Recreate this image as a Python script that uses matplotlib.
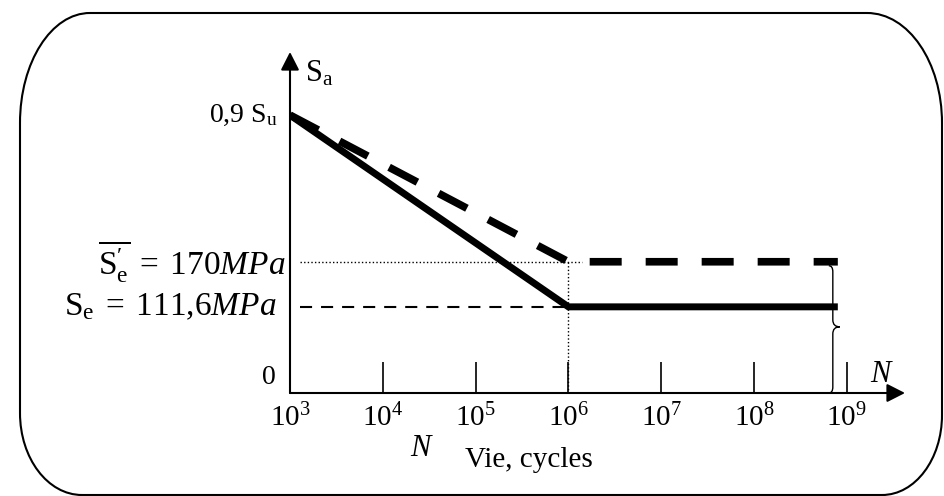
import numpy as np
import matplotlib
matplotlib.use("Agg")
import matplotlib.pyplot as plt
from matplotlib.path import Path
from matplotlib.patches import PathPatch
from matplotlib.transforms import Affine2D

plt.rcParams.update({
    "font.family": "Liberation Serif",
    "mathtext.fontset": "custom",
    "mathtext.rm": "Liberation Serif",
    "mathtext.it": "Liberation Serif:italic",
    "mathtext.bf": "Liberation Serif:bold",
})

# S-N diagram (schematic), life N in cycles, amplitude in MPa
N_knee = [1e3, 1e6, 8e8]
S_corrected = [360.0, 111.6, 111.6]     # S_e = 111,6 MPa
S_uncorrected = [360.0, 170.0, 170.0]   # S'_e = 170 MPa
S_09Su = 360.0
S_e = 111.6
S_e_prime = 170.0
decades = [3, 4, 5, 6, 7, 8, 9]

W, H = 944, 496
fig = plt.figure(figsize=(W / 100, H / 100), dpi=100)

# axes box: origin at (10^3, 0), arrow tips at the far ends
ax = fig.add_axes([290 / W, (H - 393) / H, (905 - 290) / W, (393 - 52) / H])
ax.set_xscale("log")
ax.set_xlim(1e3, 10 ** 9.627)
ax.set_ylim(0, 441.7)
for sp in ax.spines.values():
    sp.set_visible(False)
ax.patch.set_alpha(0)

# axes with arrow heads
arrow = dict(arrowstyle="-|>,head_length=0.55,head_width=0.28", color="black",
             lw=1.5, shrinkA=0, shrinkB=0, mutation_scale=20)
ax.annotate("", xy=(1, 0), xytext=(0, 0), xycoords="axes fraction", arrowprops=arrow)
ax.annotate("", xy=(0, 1), xytext=(0, 0), xycoords="axes fraction", arrowprops=arrow)

ax.set_xticks([10.0 ** d for d in decades])
ax.set_xticklabels([rf"$10^{{{d}}}$" for d in decades], fontsize=21)
ax.xaxis.set_minor_locator(matplotlib.ticker.NullLocator())
ax.tick_params(axis="x", direction="in", length=22, width=1.2, pad=8)
ax.set_yticks([])

# guide lines to the endurance levels
ax.plot([1.28e3, 1.4e6], [S_e_prime, S_e_prime], color="black", lw=1.0,
        ls=(0, (1, 1.6)), clip_on=False)
ax.plot([1e6, 1e6], [S_e_prime, 0], color="black", lw=1.0, ls=(0, (1, 1.6)))
ax.plot([1.28e3, 1e6], [S_e, S_e], color="black", lw=1.5, ls=(0, (5.8, 4.3)))

# uncorrected curve (dashed) and corrected curve (solid)
ln, = ax.plot(N_knee, S_uncorrected, color="black", lw=5.5, solid_joinstyle="miter")
ln.set_dashes((4.19, 3.14))
ax.plot(N_knee, S_corrected, color="black", lw=5.0, solid_joinstyle="miter",
        solid_capstyle="butt")

# level labels
ax.annotate(r"0,9 $\mathrm{S}_{\mathrm{u}}$", xy=(1e3, S_09Su), xytext=(-9, 0),
            textcoords="offset points", ha="right", va="center", fontsize=20)
ax.annotate(r"$\overline{\mathrm{S}_{\mathrm{e}}^{\prime}}\;=\;170\mathit{MPa}$",
            xy=(1e3, S_e_prime), xytext=(-3, 0), textcoords="offset points",
            ha="right", va="center", fontsize=24)
ax.annotate(r"$\mathrm{S}_{\mathrm{e}}\;=\;111{,}6\mathit{MPa}$", xy=(1e3, S_e),
            xytext=(-10, 0), textcoords="offset points", ha="right",
            va="center", fontsize=24)
ax.annotate("0", xy=(1e3, 0), xytext=(-10, 2), textcoords="offset points",
            ha="right", va="bottom", fontsize=20)
ax.annotate(r"$\mathrm{S}_{\mathrm{a}}$", xy=(0, 1), xycoords="axes fraction",
            xytext=(11, -16), textcoords="offset points", ha="left",
            va="center", fontsize=22)
fig.text(880 / W, 1 - 374 / H, "N", style="italic", fontsize=22, ha="center", va="center")
fig.text(420 / W, 1 - 448 / H, "N", style="italic", fontsize=22, ha="center", va="center")
fig.text(465 / W, 1 - 467 / H, "Vie, cycles", fontsize=21, ha="left", va="baseline")

# curly brace spanning 0 .. S'_e at the end of the curves
fig.canvas.draw()
xb, ytop = ax.transData.transform((N_knee[-1], S_e_prime))
_, ybot = ax.transData.transform((N_knee[-1], 0))
xb -= 5
ytop -= 4
ymid = ybot + (ytop - ybot) * 0.52
verts = [(xb - 4, ytop), (xb, ytop), (xb, ytop - 6),
         (xb, ymid + 7),
         (xb, ymid), (xb + 7, ymid),
         (xb, ymid), (xb, ymid - 7),
         (xb, ybot + 6),
         (xb, ybot), (xb - 4, ybot)]
codes = [Path.MOVETO, Path.CURVE3, Path.CURVE3, Path.LINETO,
         Path.CURVE3, Path.CURVE3, Path.CURVE3, Path.CURVE3,
         Path.LINETO, Path.CURVE3, Path.CURVE3]
fig.add_artist(PathPatch(Path(verts, codes), fill=False, lw=1.0, color="black",
                         transform=matplotlib.transforms.IdentityTransform()))


# rounded frame around the whole diagram (elliptic corners)
def frame_path(left, top, right, bottom, radii):
    k = 0.5523
    (r1x, r1y), (r2x, r2y), (r3x, r3y), (r4x, r4y) = radii
    v = [(left + r1x, top), (right - r2x, top),
         (right - r2x + k * r2x, top), (right, top + r2y - k * r2y), (right, top + r2y),
         (right, bottom - r3y),
         (right, bottom - r3y + k * r3y), (right - r3x + k * r3x, bottom), (right - r3x, bottom),
         (left + r4x, bottom),
         (left + r4x - k * r4x, bottom), (left, bottom - r4y + k * r4y), (left, bottom - r4y),
         (left, top + r1y),
         (left, top + r1y - k * r1y), (left + r1x - k * r1x, top), (left + r1x, top)]
    c = [Path.MOVETO, Path.LINETO,
         Path.CURVE4, Path.CURVE4, Path.CURVE4,
         Path.LINETO,
         Path.CURVE4, Path.CURVE4, Path.CURVE4,
         Path.LINETO,
         Path.CURVE4, Path.CURVE4, Path.CURVE4,
         Path.LINETO,
         Path.CURVE4, Path.CURVE4, Path.CURVE4]
    v = [(x, H - y) for x, y in v]
    return Path(v, c)


frame = frame_path(20, 13, 942, 495, [(70, 110), (75, 110), (60, 80), (62, 82)])
fig.add_artist(PathPatch(frame, fill=False, lw=1.5, color="black",
                         transform=Affine2D().scale(1 / W, 1 / H) + fig.transFigure))

fig.savefig("out.png", dpi=100)
